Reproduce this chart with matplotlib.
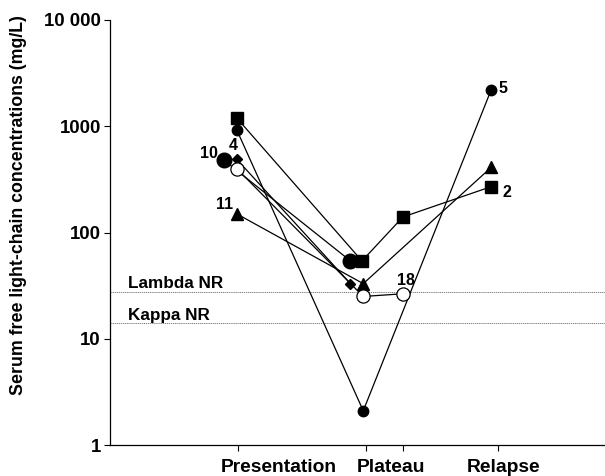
import matplotlib
matplotlib.use("Agg")
import matplotlib.pyplot as plt
from matplotlib.ticker import FixedLocator, NullLocator
import matplotlib.transforms as mtransforms

plt.rcParams['font.family'] = ['Liberation Sans', 'DejaVu Sans']
plt.rcParams['font.weight'] = 'bold'

# x tick positions & category labels
tick_pos = [1.0, 2.0, 2.29, 3.03]
cat_labels = ["Presentation", "Plateau", "Relapse"]
cat_label_x = [1.318, 2.196, 3.08]

y_ticks = [1, 10, 100, 1000, 10000]
y_tick_labels = ["1", "10", "100", "1000", "10 000"]

# reference ranges
lambda_nr = 27.5
kappa_nr = 14.0

# patient series (x position, value)
sq_x = [0.99, 1.97, 2.29, 2.98]
sq_y = [1200, 54, 140, 270]

c5_x = [0.99, 1.98, 2.98]
c5_y = [930, 2.1, 2200]

c10_x = [0.89, 1.88]
c10_y = [480, 54]

d4_x = [0.99, 1.88]
d4_y = [490, 33]

o18_x = [0.99, 1.98, 2.29]
o18_y = [400, 25, 26.5]

t11_x = [0.99, 1.98, 2.98]
t11_y = [150, 33, 410]

fig = plt.figure(figsize=(6.05, 4.76), dpi=100)
ax = fig.add_axes([110/605, 1-445/476, 1-110/605, (445-20)/476])

lw = 0.9
ax.plot(sq_x, sq_y, color='black', lw=lw, marker='s', ms=8.5, zorder=3)
ax.plot(c5_x, c5_y, color='black', lw=lw, marker='o', ms=7.5, zorder=3)
ax.plot(c10_x, c10_y, color='black', lw=lw, marker='o', ms=10.5, zorder=3)
ax.plot(d4_x, d4_y, color='black', lw=lw, marker='D', ms=5.5, zorder=3)
ax.plot(t11_x, t11_y, color='black', lw=lw, marker='^', ms=8.5, zorder=3)
ax.plot(o18_x, o18_y, color='black', lw=lw, marker='o', ms=9.5,
        markerfacecolor='white', markeredgecolor='black', markeredgewidth=0.9, zorder=4)

ax.axhline(lambda_nr, color='#666666', lw=0.6, ls=(0, (1.5, 1)), zorder=1)
ax.axhline(kappa_nr, color='#666666', lw=0.6, ls=(0, (1.5, 1)), zorder=1)
ax.text(0.14, lambda_nr*1.015, "Lambda NR", fontsize=12.3, fontweight='bold', va='bottom')
ax.text(0.14, kappa_nr*1.015, "Kappa NR", fontsize=12.3, fontweight='bold', va='bottom')

# point labels
lab_kw = dict(fontsize=11.5, fontweight='bold')
ax.text(0.847, 560, "10", ha='right', va='center', **lab_kw)
ax.text(0.96, 560, "4", ha='center', va='bottom', **lab_kw)
ax.text(0.965, 185, "11", ha='right', va='center', **lab_kw)
ax.text(2.31, 35, "18", ha='center', va='center', **lab_kw)
ax.text(3.04, 2250, "5", ha='left', va='center', **lab_kw)
ax.text(3.07, 240, "2", ha='left', va='center', **lab_kw)

ax.set_yscale('log')
ax.set_ylim(1, 10000)
ax.set_xlim(0, 3.87)
ax.yaxis.set_major_locator(FixedLocator(y_ticks))
ax.yaxis.set_minor_locator(NullLocator())
ax.set_yticklabels(y_tick_labels, fontsize=13.4, fontweight='bold')
ax.set_xticks(tick_pos)
ax.set_xticklabels([""] * len(tick_pos))
ax.tick_params(axis='both', direction='out', length=4, width=0.8)
ax.tick_params(axis='y', pad=2.5)

trans = mtransforms.blended_transform_factory(ax.transData, ax.transAxes)
for xl, lab in zip(cat_label_x, cat_labels):
    ax.text(xl, -22/425, lab, transform=trans, ha='center', va='center',
            fontsize=13.9, fontweight='bold', clip_on=False)

ax.set_ylabel("Serum free light-chain concentrations (mg/L)", fontsize=12.8, fontweight='bold')
ax.yaxis.set_label_coords(-(110-27)/495, (445-205)/425)
for s in ['top', 'right']:
    ax.spines[s].set_visible(False)
for s in ['left', 'bottom']:
    ax.spines[s].set_linewidth(0.9)

fig.savefig("out.png", dpi=100)
